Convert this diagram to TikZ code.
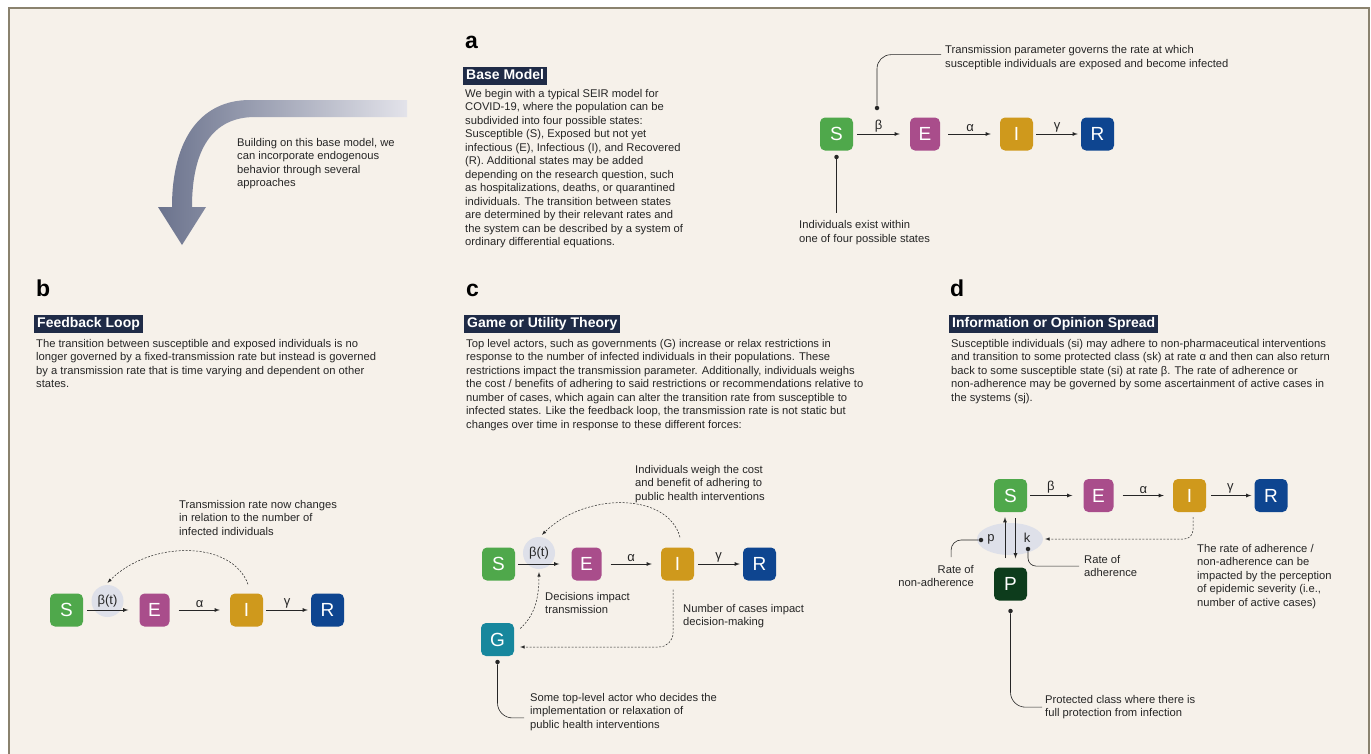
\documentclass[tikz,border=0pt]{standalone}
\usepackage{fontspec}
\setmainfont{Liberation Sans}
\usepackage{tikz}
\usetikzlibrary{shapes,arrows,positioning,calc}

\definecolor{bgpaper}{HTML}{F6F1EA}
\definecolor{framecol}{HTML}{8A826E}
\definecolor{hdrnavy}{HTML}{1F2B47}
\definecolor{susgreen}{HTML}{4FA84B}
\definecolor{expmag}{HTML}{A94D8B}
\definecolor{infgold}{HTML}{CF991C}
\definecolor{recblue}{HTML}{0E4590}
\definecolor{govteal}{HTML}{17879D}
\definecolor{protgreen}{HTML}{0D3C1C}
\definecolor{ratebg}{HTML}{DEE0E9}
\definecolor{inkgray}{HTML}{262626}
\definecolor{arrowdark}{HTML}{6B738D}
\definecolor{arrowlight}{HTML}{E3E3EA}

\newcommand\bodyfont{\fontsize{11.2}{13.5}\selectfont}

\tikzset{
  state/.style={
    rectangle, rounded corners=5pt,
    minimum width=33pt, minimum height=33pt, inner sep=0pt,
    text=white, font=\fontsize{19}{19}\selectfont
  },
  header/.style={
    fill=hdrnavy, text=white, anchor=north west,
    font=\fontsize{14}{16}\selectfont\bfseries,
    inner xsep=3pt, inner ysep=2.5pt, text height=10pt, text depth=3pt
  },
  bodytext/.style={align=left, anchor=north west, inner sep=0pt, text=inkgray, font=\bodyfont},
  panelletter/.style={anchor=base west, inner sep=0pt, font=\fontsize{23}{23}\selectfont\bfseries},
  flow/.style={-latex, line width=0.8pt, draw=inkgray},
  rate/.style={font=\fontsize{13}{13}\selectfont, inner sep=1.5pt, text=inkgray},
  ratebubble/.style={circle, fill=ratebg, minimum size=32pt, inner sep=0pt,
    font=\fontsize{13}{13}\selectfont, text=inkgray},
  feedback/.style={-latex, dash pattern=on 2pt off 1.5pt, line width=0.5pt, draw=inkgray},
  pinline/.style={line width=0.6pt, draw=inkgray},
  pindot/.style={circle, fill=inkgray, inner sep=0pt, minimum size=4.5pt}
}

\begin{document}
\begin{tikzpicture}[x=1pt, y=-1pt]

  \useasboundingbox (0,0) rectangle (1371,753);
  \fill[white] (0,0) rectangle (1371,753);
  \draw[framecol, line width=2pt, fill=bgpaper] (8.5,7.5) rectangle (1368.5,800);

  % Curved arrow
  \shade[left color=arrowdark, right color=arrowlight]
    (407,100) -- (250,100) .. controls (200,100) and (172,140) .. (172,207)
    -- (158,207) -- (182,245) -- (206,207) -- (192,207)
    .. controls (192,150) and (212,117) .. (255,117) -- (407,117) -- cycle;
  \node[bodytext] (arrnote) at (237,138) {Building on this base model, we\\can incorporate endogenous\\behavior through several\\approaches};

  % Panel a
  \node[panelletter] (alet) at (465,48) {a};
  \node[header] (ahdr) at (463,67) {Base Model};
  \node[bodytext] (abody) at (465,89) {We begin with a typical SEIR model for\\COVID-19, where the population can be\\subdivided into four possible states:\\Susceptible (S), Exposed but not yet\\infectious (E), Infectious (I), and Recovered\\(R). Additional states may be added\\depending on the research question, such\\as hospitalizations, deaths, or quarantined\\individuals. The transition between states\\are determined by their relevant rates and\\the system can be described by a system of\\ordinary differential equations.};

  \node[state, fill=susgreen] (Sa) at (836.5,134) {S};
  \node[state, fill=expmag, minimum width=30pt] (Ea) at (925,134) {E};
  \node[state, fill=infgold] (Ia) at (1016.5,134) {I};
  \node[state, fill=recblue] (Ra) at (1097.5,134) {R};
  \draw[flow, shorten <=4pt, shorten >=10pt] (Sa) -- (Ea) node[rate, pos=0.45, above] (betaa) {β};
  \draw[flow, shorten <=8pt, shorten >=9pt] (Ea) -- (Ia) node[rate, midway, above] (alphaa) {α};
  \draw[flow, shorten <=3pt, shorten >=3pt] (Ia) -- (Ra) node[rate, midway, above] (gammaa) {γ};

  \node[bodytext] (anote1) at (945,45.5) {Transmission parameter governs the rate at which\\susceptible individuals are exposed and become infected};
  \node[pindot] (apin1) at (877,108) {};
  \draw[pinline, rounded corners=14pt, shorten >=4pt] (apin1) |- ([yshift=3pt]anote1.west);
  \node[bodytext] (anote2) at (799,220.5) {Individuals exist within\\one of four possible states};
  \node[pindot] (apin2) at (836.5,157) {};
  \draw[pinline, shorten >=8pt] (apin2) -- (apin2 |- anote2.north);

  % Panel b
  \node[panelletter] (blet) at (36,296) {b};
  \node[header] (bhdr) at (34,315) {Feedback Loop};
  \node[bodytext] (bbody) at (36,339) {The transition between susceptible and exposed individuals is no\\longer governed by a fixed-transmission rate but instead is governed\\by a transmission rate that is time varying and dependent on other\\states.};

  \node[state, fill=susgreen] (Sb) at (66.5,610) {S};
  \node[ratebubble] (betab) at (107.5,601) {β(t)};
  \node[state, fill=expmag, minimum width=30pt] (Eb) at (154.5,610) {E};
  \node[state, fill=infgold] (Ib) at (246.5,610) {I};
  \node[state, fill=recblue] (Rb) at (327.5,610) {R};
  \draw[flow, shorten <=4pt, shorten >=11pt] (Sb) -- (Eb);
  \draw[flow, shorten <=9pt, shorten >=10pt] (Eb) -- (Ib) node[rate, midway, above] (alphab) {α};
  \draw[flow, shorten <=3pt, shorten >=3pt] (Ib) -- (Rb) node[rate, midway, above] (gammab) {γ};
  \draw[feedback] ([xshift=1.5pt,yshift=9pt]Ib.north) .. controls (232,540) and (150,540) .. ([yshift=2pt]betab.north);
  \node[bodytext] (bnote) at (179,500) {Transmission rate now changes\\in relation to the number of\\infected individuals};

  % Panel c
  \node[panelletter] (clet) at (466,296) {c};
  \node[header] (chdr) at (464,315) {Game or Utility Theory};
  \node[bodytext] (cbody) at (466,339) {Top level actors, such as governments (G) increase or relax restrictions in\\response to the number of infected individuals in their populations. These\\restrictions impact the transmission parameter. Additionally, individuals weighs\\the cost / benefits of adhering to said restrictions or recommendations relative to\\number of cases, which again can alter the transition rate from susceptible to\\infected states. Like the feedback loop, the transmission rate is not static but\\changes over time in response to these different forces:};

  \node[state, fill=susgreen] (Sc) at (498.5,564) {S};
  \node[ratebubble] (betac) at (539,553) {β(t)};
  \node[state, fill=expmag, minimum width=30pt] (Ec) at (586.5,564) {E};
  \node[state, fill=infgold] (Ic) at (677.5,564) {I};
  \node[state, fill=recblue] (Rc) at (759.5,564) {R};
  \node[state, fill=govteal] (Gc) at (497.5,639.5) {G};
  \draw[flow, shorten <=3pt, shorten >=12pt] (Sc) -- (Ec);
  \draw[flow, shorten <=9pt, shorten >=9pt] (Ec) -- (Ic) node[rate, midway, above] (alphac) {α};
  \draw[flow, shorten <=4pt, shorten >=3pt] (Ic) -- (Rc) node[rate, midway, above] (gammac) {γ};
  \draw[feedback] ([xshift=2.5pt,yshift=10pt]Ic.north) .. controls (668,492) and (585,492) .. ([xshift=3pt,yshift=2pt]betac.north);
  \draw[feedback] ([xshift=6pt,yshift=11pt]Gc.east) .. controls (534,616) and (539,600) .. ([yshift=-3pt]betac.south);
  \draw[feedback, rounded corners=14pt] ([xshift=-4.5pt,yshift=-9pt]Ic.south) |- ([xshift=6pt,yshift=-7.5pt]Gc.east);

  \node[bodytext] (cnote1) at (635,465) {Individuals weigh the cost\\and benefit of adhering to\\public health interventions};
  \node[bodytext] (cnote2) at (545,592) {Decisions impact\\transmission};
  \node[bodytext] (cnote3) at (683,604) {Number of cases impact\\decision-making};
  \node[bodytext] (cnote4) at (530,693) {Some top-level actor who decides the\\implementation or relaxation of\\public health interventions};
  \node[pindot] (cpin) at (497.5,662) {};
  \draw[pinline, rounded corners=15pt, shorten >=6pt] (cpin) |- ([yshift=-6pt]cnote4.west);

  % Panel d
  \node[panelletter] (dlet) at (950,296) {d};
  \node[header] (dhdr) at (949,315) {Information or Opinion Spread};
  \node[bodytext] (dbody) at (951,339) {Susceptible individuals (si) may adhere to non-pharmaceutical interventions\\and transition to some protected class (sk) at rate α and then can also return\\back to some susceptible state (si) at rate β. The rate of adherence or\\non-adherence may be governed by some ascertainment of active cases in\\the systems (sj).};

  \node[ellipse, fill=ratebg, minimum width=66pt, minimum height=32pt, inner sep=0pt] (pk) at (1010,539) {};
  \node[state, fill=susgreen] (Sd) at (1010.5,495.5) {S};
  \node[state, fill=expmag, minimum width=30pt] (Ed) at (1098.5,495.5) {E};
  \node[state, fill=infgold] (Id) at (1189.5,495.5) {I};
  \node[state, fill=recblue] (Rd) at (1271,495.5) {R};
  \node[state, fill=protgreen] (Pd) at (1010.5,584) {P};
  \draw[flow, shorten <=3pt, shorten >=11pt] (Sd) -- (Ed) node[rate, pos=0.42, above] (betad) {β};
  \draw[flow, shorten <=9pt, shorten >=9pt] (Ed) -- (Id) node[rate, midway, above] (alphad) {α};
  \draw[flow, shorten <=5pt, shorten >=3pt] (Id) -- (Rd) node[rate, midway, above] (gammad) {γ};
  \node[rate] (prate) at (991,539) {p};
  \node[rate] (krate) at (1027,538) {k};
  \draw[flow] ([xshift=-5.5pt,yshift=9pt]Pd.north) -- ([xshift=-5.5pt,yshift=-5pt]Sd.south);
  \draw[flow] ([xshift=5pt,yshift=-6pt]Sd.south) -- ([xshift=5pt,yshift=9pt]Pd.north);
  \draw[feedback, rounded corners=9pt] ([xshift=3.5pt,yshift=-5pt]Id.south) |- ([xshift=2pt]pk.east);

  \node[pindot] (dpin1) at (981,540) {};
  \node[bodytext, align=right, anchor=north east] (dnote1) at (974,565) {Rate of\\non-adherence};
  \draw[pinline, rounded corners=10pt, shorten >=8pt] (dpin1) -| ([xshift=15pt]dnote1.north);
  \node[pindot] (dpin2) at (1028,549) {};
  \node[bodytext] (dnote2) at (1084,555) {Rate of\\adherence};
  \draw[pinline, rounded corners=8pt, shorten >=5pt] (dpin2) |- (dnote2.west);
  \node[bodytext] (dnote3) at (1197,544) {The rate of adherence /\\non-adherence can be\\impacted by the perception\\of epidemic severity (i.e.,\\number of active cases)};
  \node[pindot] (dpin3) at (1010.5,611) {};
  \node[bodytext] (dnote4) at (1045,695) {Protected class where there is\\full protection from infection};
  \draw[pinline, rounded corners=15pt, shorten >=3pt] (dpin3) |- (dnote4.west);

\end{tikzpicture}
\end{document}
